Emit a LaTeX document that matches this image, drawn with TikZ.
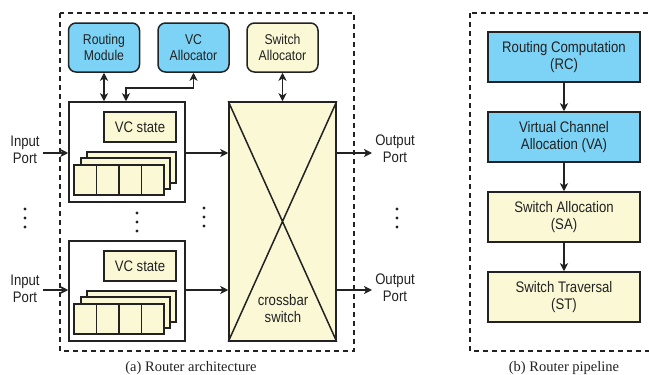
\documentclass[tikz,border=0pt]{standalone}
\usepackage{fontspec}
\setmainfont{Liberation Serif}
\setsansfont{Liberation Sans}[FakeStretch=0.86]
\usetikzlibrary{arrows.meta,calc}
\definecolor{cblue}{HTML}{7DD3F5}
\definecolor{cyel}{HTML}{FBF8D6}
\definecolor{ink}{HTML}{222222}
\begin{document}
\begin{tikzpicture}[x=1pt,y=-1pt,
  lw/.style={line width=1.5pt,draw=ink},
  topbox/.style={lw,draw,rounded corners=7.5pt,inner sep=0pt,minimum width=71pt,minimum height=49pt,align=center,text=ink,font=\sffamily\fontsize{14.2}{16}\selectfont},
  plain/.style={lw,draw,inner sep=0pt,align=center,text=ink,font=\sffamily\fontsize{15.3}{17}\selectfont},
  pipebox/.style={plain,minimum width=152pt,minimum height=50pt},
  lbl/.style={inner sep=0pt,align=center,text=ink,font=\sffamily\fontsize{15.3}{17}\selectfont},
  captext/.style={inner sep=0pt,text=ink,font=\fontsize{14.5}{17}\selectfont},
  dashbox/.style={line width=1.4pt,draw=ink,dash pattern=on 5pt off 4pt},
  arr/.style={lw,-{Stealth[length=8pt,width=8pt,inset=2.2pt]}},
  darr/.style={lw,{Stealth[length=8pt,width=8pt,inset=2.2pt]}-{Stealth[length=8pt,width=8pt,inset=2.2pt]}},
  cell/.style={lw,draw,fill=cyel,inner sep=0pt,minimum height=30pt}
]
\useasboundingbox (0,0) rectangle (649,375);
\begin{scope}
\clip (0,0) rectangle (649,375);
% dashed frames
\draw[dashbox] (60,13) rectangle (354,351);
\draw[dashbox] (470,13) rectangle (662,351);

% top allocator boxes
\node[topbox,fill=cblue] (rm) at (104,47.5) {Routing\\Module};
\node[topbox,fill=cblue] (vca) at (193.5,47.5) {VC\\Allocator};
\node[topbox,fill=cyel] (swa) at (282.5,47.5) {Switch\\Allocator};

% input buffers
\foreach \i/\dy in {1/0,2/139}{
  \node[plain,minimum width=116pt,minimum height=100pt] (buf\i) at (127,152+\dy) {};
  \node[plain,fill=cyel,minimum width=72pt,minimum height=30pt] (vcs\i) at (140,127+\dy) {VC state};
  \node[cell,minimum width=89pt,minimum height=31pt] (qa\i) at (131.5,167.5+\dy) {};
  \node[cell,minimum width=89pt,minimum height=31pt] (qb\i) at (125.5,173.5+\dy) {};
  \node[cell,minimum width=90pt] (qc\i) at (119,180+\dy) {};
  \draw[lw] (96.5,165+\dy) -- (96.5,195+\dy)
            (119,165+\dy) -- (119,195+\dy)
            (141.5,165+\dy) -- (141.5,195+\dy);
}

% crossbar
\node[plain,fill=cyel,minimum width=107pt,minimum height=239pt] (xb) at (282.5,221.5) {};
\draw[lw] (xb.north west) -- (xb.south east) (xb.north east) -- (xb.south west);
\node[lbl] (xbl) at (283,309) {crossbar\\switch};

% allocator connections
\draw[darr] (rm.south) -- (rm.south |- buf1.north);
\coordinate (vcb) at (126,88);
\draw[darr] (vca.south) |- (vcb) -- (vcb |- buf1.north);
\draw[darr] (swa.south) -- (swa.south |- xb.north);

% ports
\node[lbl] (in1) at (25,150) {Input\\Port};
\node[lbl] (in2) at (25,289) {Input\\Port};
\node[lbl] (out1) at (395,149) {Output\\Port};
\node[lbl] (out2) at (395,288) {Output\\Port};
\coordinate (ia1) at (43,153);
\coordinate (ia2) at (43,290);
\coordinate (oa1) at (372,153);
\coordinate (oa2) at (372,290);
\draw[arr] (ia1) -- (ia1 -| buf1.west);
\draw[arr] (ia2) -- (ia2 -| buf2.west);
\draw[arr] (ia1 -| buf1.east) -- (ia1 -| xb.west);
\draw[arr] (ia2 -| buf2.east) -- (ia2 -| xb.west);
\draw[arr] (oa1 -| xb.east) -- (oa1);
\draw[arr] (oa2 -| xb.east) -- (oa2);

% vertical dots
\foreach \x/\y in {25/209,137/213,204/208,397/209}{
  \foreach \k in {0,9,18}{
    \fill[ink] (\x,\y+\k) circle (1.6pt);
  }
}

% pipeline
\node[pipebox,fill=cblue] (rc) at (564,57) {Routing Computation\\(RC)};
\node[pipebox,fill=cblue] (va) at (564,137) {Virtual Channel\\Allocation (VA)};
\node[pipebox,fill=cyel] (sa) at (564,217) {Switch Allocation\\(SA)};
\node[pipebox,fill=cyel] (st) at (564,297) {Switch Traversal\\(ST)};
\draw[arr] (rc) -- (va);
\draw[arr] (va) -- (sa);
\draw[arr] (sa) -- (st);

% captions
\node[captext] (capa) at (191,368) {(a) Router architecture};
\node[captext] (capb) at (564,368) {(b) Router pipeline};
\end{scope}
\end{tikzpicture}
\end{document}
